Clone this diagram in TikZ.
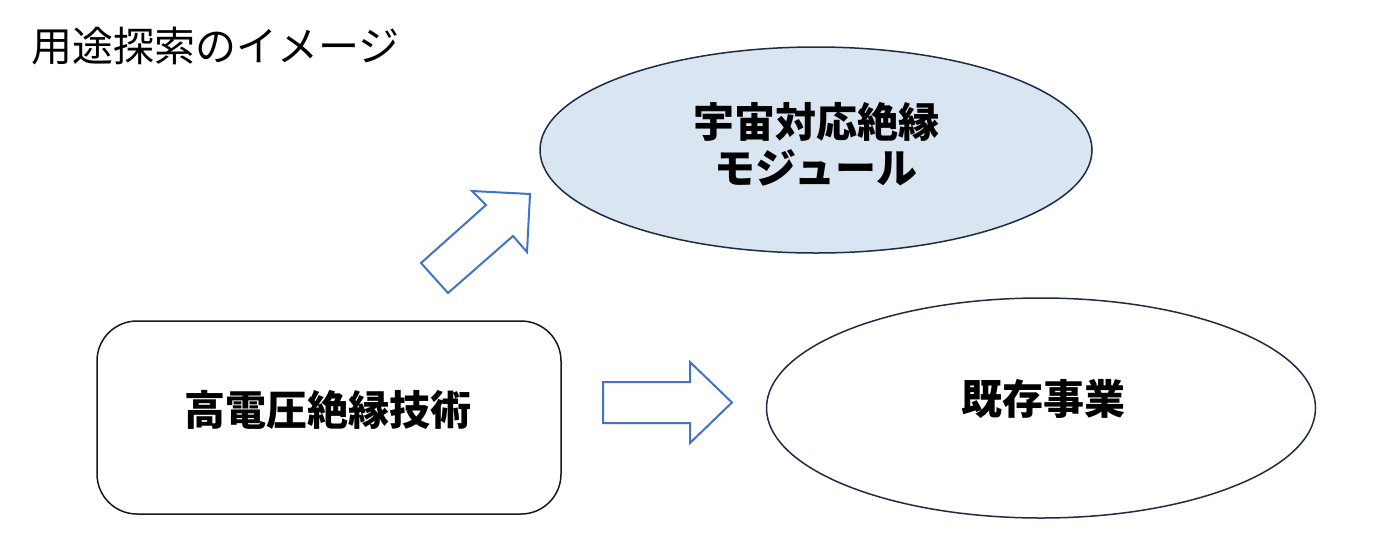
\documentclass[tikz,border=0pt]{standalone}
\usepackage{fontspec}
\setmainfont{Noto Sans CJK JP}
\usetikzlibrary{shapes.geometric}
\definecolor{arrowblue}{HTML}{4472C4}
\definecolor{lightfill}{HTML}{DAE5F2}
\definecolor{navyline}{HTML}{1F2A44}
\tikzset{
  oval/.style={ellipse, draw=navyline, line width=1.5pt, inner sep=0pt},
  labeltext/.style={inner sep=0pt, align=center, font=\fontsize{41}{46}\selectfont\bfseries},
  techbox/.style={rectangle, rounded corners=40pt, draw=black!90, line width=1.5pt, inner sep=0pt,
    minimum width=464pt, minimum height=193pt},
  blockarrow/.style={draw=arrowblue, line width=2pt, fill=white, line join=miter},
  title/.style={anchor=west, inner sep=0pt, font=\fontsize{41}{46}\selectfont}
}
\begin{document}
\begin{tikzpicture}[x=1pt,y=-1pt]
\useasboundingbox (0,0) rectangle (1378,552);
\node[title] (title) at (31,46) {用途探索のイメージ};
\node[oval, fill=lightfill, minimum width=552pt, minimum height=206pt] (space) at (816,150) {};
\node[labeltext] (spacetext) at (816,144) {宇宙対応絶縁\\モジュール};
\node[oval, fill=white, minimum width=549pt, minimum height=220pt] (exist) at (1041,408) {};
\node[labeltext] (existtext) at (1043,399) {既存事業};
\node[techbox] (tech) at (329,417.5) {};
\node[labeltext] (techtext) at (328,410) {高電圧絶縁技術};
\draw[blockarrow] (421,263) -- (486,205) -- (472,191) -- (530,194) -- (527,252) -- (513,236) -- (448,293) -- cycle;
\draw[blockarrow] (603,382) -- (690,382) -- (690,362) -- (732,402.5) -- (690,443) -- (690,423) -- (603,423) -- cycle;
\end{tikzpicture}
\end{document}
